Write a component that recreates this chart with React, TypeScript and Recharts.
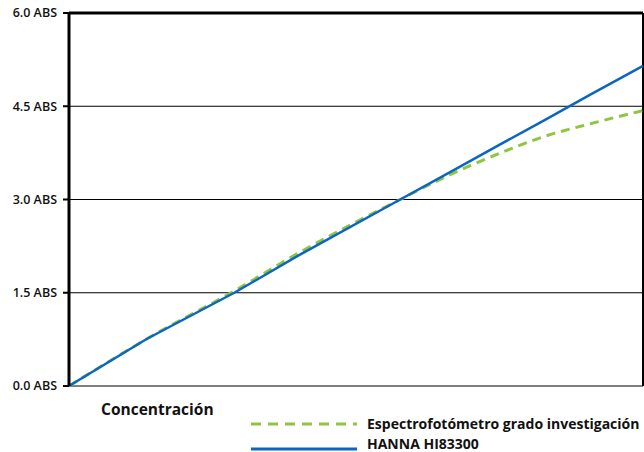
import React from 'react';
import { LineChart, Line, XAxis, YAxis, CartesianGrid, ReferenceLine } from 'recharts';

// concentration (arbitrary units, axis has no ticks)
const concentration = [0, 1.36, 2.88, 4.0, 5.77, 6.64, 7.52, 8.27, 9.09, 10];
// absorbance readings
const hanna = [0, 0.76, 1.5, 2.1, 3.0, 3.44, 3.89, 4.27, 4.69, 5.15];
const espectro = [0, 0.76, 1.53, 2.14, 3.0, 3.4, 3.75, 4.01, 4.22, 4.43];

const yTicks = [0, 1.5, 3.0, 4.5, 6.0];

const seriesNames = ['Espectrofotómetro grado investigación', 'HANNA HI83300'];
const xTitle = 'Concentración';

const GREEN = '#8DC63F';
const BLUE = '#0A66C2';
const FONT = '"Open Sans", "DejaVu Sans", sans-serif';

const data = concentration.map((c, i) => ({
  c,
  espectro: espectro[i],
  hanna: hanna[i],
}));

const textStyle: React.CSSProperties = {
  position: 'absolute',
  fontSize: 14,
  fontWeight: 700,
  fontFamily: FONT,
  color: '#111',
  lineHeight: '14px',
  whiteSpace: 'nowrap',
};

export default function App() {
  return (
    <div style={{ position: 'absolute', left: 0, top: 0, width: 644, height: 452, background: '#fff', overflow: 'hidden' }}>
      <LineChart width={644} height={452} data={data} margin={{ top: 13, right: 1, left: 0, bottom: 66 }}>
        <CartesianGrid vertical={false} horizontal stroke="#000" strokeWidth={1} />
        <XAxis
          dataKey="c"
          type="number"
          domain={[0, 10]}
          tick={false}
          tickLine={false}
          height={0}
          axisLine={{ stroke: '#000', strokeWidth: 3 }}
        />
        <YAxis
          type="number"
          domain={[0, 6]}
          ticks={yTicks}
          width={69}
          interval={0}
          tickFormatter={(v: number) => `${v.toFixed(1)} ABS`}
          tick={{ fill: '#111', fontSize: 12.5, fontWeight: 600, fontFamily: FONT }}
          tickLine={{ stroke: '#000', strokeWidth: 2 }}
          tickSize={6}
          tickMargin={6}
          axisLine={{ stroke: '#000', strokeWidth: 3 }}
        />
        <ReferenceLine y={6} stroke="#000" strokeWidth={3} />
        <ReferenceLine x={10} stroke="#000" strokeWidth={2} />
        <Line
          type="monotone"
          dataKey="espectro"
          name={seriesNames[0]}
          stroke={GREEN}
          strokeWidth={3}
          strokeDasharray="9 6"
          dot={false}
          isAnimationActive={false}
        />
        <Line
          type="linear"
          dataKey="hanna"
          name={seriesNames[1]}
          stroke={BLUE}
          strokeWidth={2.5}
          dot={false}
          isAnimationActive={false}
        />
      </LineChart>

      <div style={{ ...textStyle, left: 101, top: 400, fontSize: 15.5, lineHeight: '18px' }}>{xTitle}</div>
      <svg style={{ position: 'absolute', left: 250, top: 414 }} width={110} height={38}>
        <line x1={1} y1={10} x2={107} y2={10} stroke={GREEN} strokeWidth={3} strokeDasharray="10 7" />
        <line x1={1} y1={35} x2={107} y2={35} stroke={BLUE} strokeWidth={3} />
      </svg>
      <div style={{ ...textStyle, left: 367, top: 417 }}>{seriesNames[0]}</div>
      <div style={{ ...textStyle, left: 367, top: 437 }}>{seriesNames[1]}</div>
    </div>
  );
}
